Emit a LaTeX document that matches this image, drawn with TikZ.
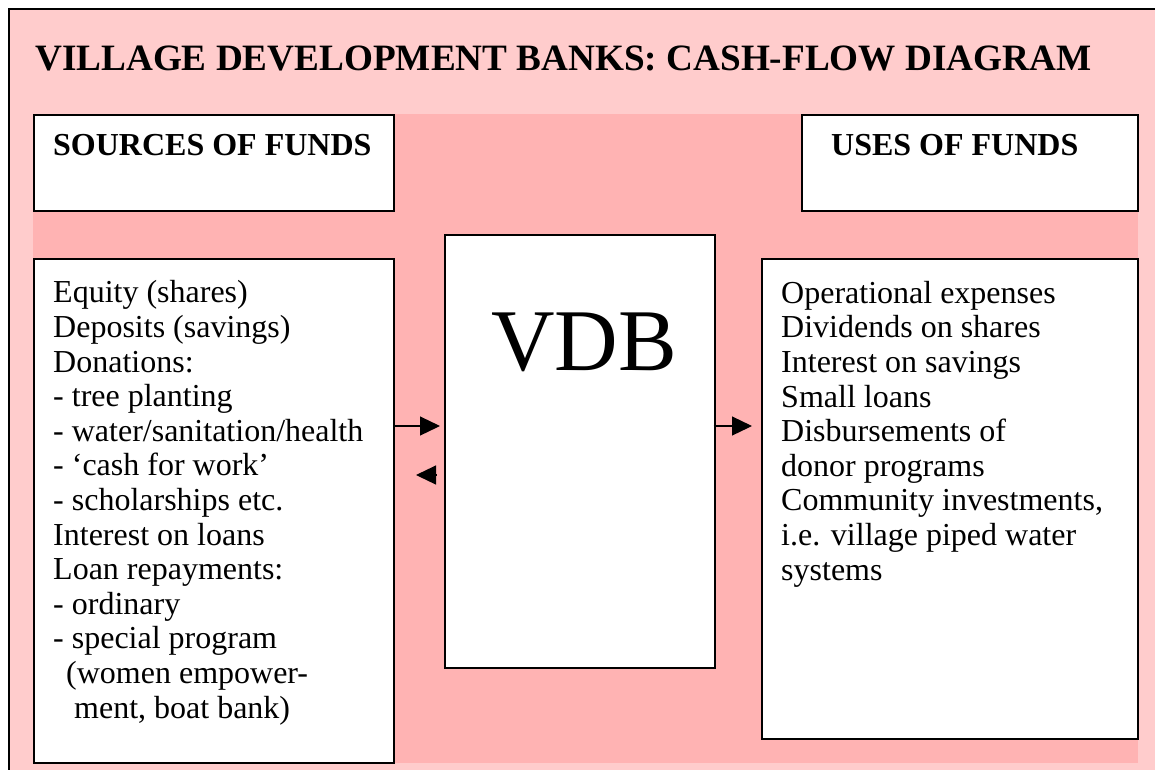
\documentclass[tikz,border=0pt]{standalone}
\usepackage{fontspec}
\setmainfont{Liberation Serif}
\usetikzlibrary{arrows.meta,positioning}
\definecolor{vdbpink}{RGB}{255,204,204}
\definecolor{vdbrose}{RGB}{255,179,179}
\tikzstyle{fundbox} = [rectangle, draw=black, fill=white, line width=1.5pt, inner sep=0pt, anchor=north west]
\tikzstyle{flow} = [line width=1.2pt, -{Triangle[length=20pt,width=19pt]}]
\tikzstyle{headtext} = [anchor=base west, inner sep=0pt, font=\fontsize{32}{36}\selectfont\bfseries]
\tikzstyle{listtext} = [anchor=base west, align=left, inner sep=0pt, font=\fontsize{32}{34.6}\selectfont]

\begin{document}
\begin{tikzpicture}[x=1pt, y=-1pt]
\useasboundingbox (0,0) rectangle (1155,769);
% Background panels
\fill[vdbpink] (9,9) rectangle (1170,785);
\draw[line width=1.5pt] (9,785) -- (9,9) -- (1170,9);
\fill[vdbrose] (33,114) rectangle (1138,763);

\node[anchor=base west, inner sep=0pt, font=\fontsize{37.2}{40}\selectfont\bfseries] (title) at (35,70) {VILLAGE DEVELOPMENT BANKS: CASH-FLOW DIAGRAM};

% Boxes
\node[fundbox, minimum width=360pt, minimum height=504pt] (srclist) at (33,258) {};
\node[fundbox, minimum width=360pt, minimum height=96pt] (srchead) at (33,114) {};
\node[fundbox, minimum width=336pt, minimum height=96pt] (usehead) at (801,114) {};
\node[fundbox, minimum width=270pt, minimum height=433pt] (vdb) at (444,234) {};
\node[fundbox, minimum width=376pt, minimum height=480pt] (uselist) at (761,258) {};

% Headings
\node[headtext] (srctitle) at (53,155) {SOURCES OF FUNDS};
\node[headtext] (usetitle) at (831,155) {USES OF FUNDS};

\node[anchor=base, inner sep=0pt, font=\fontsize{88}{90}\selectfont] (vdbname) at (584,370) {VDB};

% Lists (base = last line)
\node[listtext] (srcitems) at (53,718) {Equity (shares)\\
Deposits (savings)\\
Donations:\\
- tree planting\\
- water/sanitation/health\\
- `cash for work'\\
- scholarships etc.\\
Interest on loans\\
Loan repayments:\\
- ordinary\\
- special program\\
\hspace*{13pt}(women empower-\\
\hspace*{21pt}ment, boat bank)};

\node[listtext] (useitems) at (781,580) {Operational expenses\\
Dividends on shares\\
Interest on savings\\
Small loans\\
Disbursements of\\
donor programs\\
Community investments,\\
i.e. village piped water\\
systems};

% Flows
\coordinate (backtip) at (416,475);
\draw[flow] (srclist.east |- 0,426) -- ([xshift=-4pt]vdb.west |- 0,426);
\draw[flow] ([xshift=-8pt]vdb.west |- backtip) -- (backtip);
\draw[flow] ([xshift=-2pt]vdb.east |- 0,426) -- ([xshift=-9pt]uselist.west |- 0,426);
\end{tikzpicture}
\end{document}
